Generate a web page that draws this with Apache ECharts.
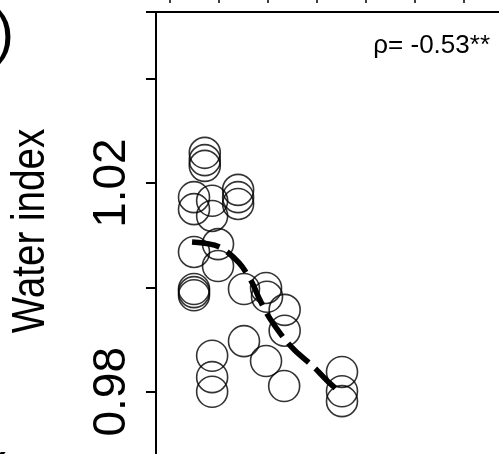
<!DOCTYPE html>
<html>
<head>
<meta charset="utf-8">
<script src="https://cdn.jsdelivr.net/npm/echarts@6/dist/echarts.min.js"></script>
<style>
    html, body { margin: 0; padding: 0; background: #fff; }
    #chart { width: 499px; height: 454px; }
</style>
</head>
<body>
<div id="chart"></div>
<script>
// point values (x in tick units, y = water index)
const pointX = [0.71, 0.71, 0.71, 0.49, 0.49, 0.86, 0.86, 1.39, 1.39, 1.39,
    0.98, 0.49, 0.98, 0.49, 0.49, 0.49, 1.51, 1.96, 1.98, 2.34,
    2.34, 1.51, 1.96, 2.33, 0.86, 0.86, 0.86, 3.51, 3.51, 3.51];
const pointY = [1.0258, 1.0244, 1.0233, 1.0173, 1.0150, 1.0166, 1.0137, 1.0187, 1.0160, 1.0173,
    1.0083, 1.0068, 1.0041, 0.9997, 0.9991, 0.9985, 0.9997, 0.9999, 0.9982, 0.9957,
    0.9917, 0.9897, 0.9859, 0.9811, 0.9869, 0.9828, 0.9800, 0.9838, 0.9801, 0.9782];

// fitted trend (dashed)
const trendX = [0.45, 1.0, 1.41, 1.67, 1.82, 2.02, 2.33, 2.55, 2.96, 3.24, 3.51];
const trendY = [1.0087, 1.0078, 1.0047, 1.0010, 0.9979, 0.9943, 0.9902, 0.9879, 0.9845, 0.9818, 0.9797];

// axis ticks
const xTicks = [0, 1, 2, 3, 4, 5, 6, 7];
const yLabels = ['0.98', '1.02'];
const rhoText = 'ρ= -0.53**';

const chart = echarts.init(document.getElementById('chart'));

const points = pointX.map((x, i) => [x, pointY[i]]);
const trend = trendX.map((x, i) => [x, trendY[i]]);

const font = 'Liberation Sans';

const options = {
    animation: false,
    grid: [
        // plot box, right and bottom sides run off the picture
        {
            left: 156, top: 12, right: -30, bottom: -42.1,
            outerBoundsMode: 'none',
            show: true, borderColor: '#000', borderWidth: 2,
        },
        // only for the ticks of the panel above
        { left: 170, top: 12, width: 49 * 7, height: 100, outerBoundsMode: 'none' },
    ],
    xAxis: [
        {
            gridIndex: 0,
            type: 'value',
            min: -14 / 49,
            max: -14 / 49 + 373 / 49,
            show: false,
        },
        {
            gridIndex: 1,
            type: 'value',
            position: 'top',
            offset: 22,
            min: xTicks[0],
            max: xTicks[xTicks.length - 1],
            interval: 1,
            axisLine: { show: false, onZero: false },
            axisTick: { show: true, inside: true, length: 13, lineStyle: { color: '#000', width: 1.5 } },
            axisLabel: { show: false },
            splitLine: { show: false },
        },
    ],
    yAxis: [
        {
            gridIndex: 0,
            type: 'value',
            min: 0.96,
            max: 1.052795,
            interval: 0.02,
            axisLine: { show: false, onZero: false },
            axisTick: { show: true, length: 10, lineStyle: { color: '#000', width: 2 } },
            axisLabel: {
                rotate: 90,
                margin: 21,
                color: '#000',
                fontFamily: font,
                fontSize: 46,
                formatter: (v) => (yLabels.includes(v.toFixed(2)) ? v.toFixed(2) : ''),
            },
            splitLine: { show: false },
        },
        { gridIndex: 1, type: 'value', min: 0, max: 1, show: false },
    ],
    graphic: [
        {
            type: 'text',
            x: 31,
            y: 231,
            rotation: Math.PI / 2,
            scaleX: 0.84,
            style: { text: 'Water index', font: '46px "Liberation Sans"', fill: '#000', textAlign: 'center', textVerticalAlign: 'middle' },
        },
        {
            type: 'text',
            x: 490,
            y: 46,
            style: { text: rhoText, font: '26px "Liberation Sans"', fill: '#000', textAlign: 'right', textVerticalAlign: 'middle' },
        },
        // bits of the neighbouring panel labels
        {
            type: 'text',
            x: -5,
            y: 36,
            style: { text: ')', font: '57px "Liberation Sans"', fill: '#000', textAlign: 'left', textVerticalAlign: 'middle' },
        },
        {
            type: 'text',
            x: -13,
            y: 478,
            style: { text: '(', font: '57px "Liberation Sans"', fill: '#000', textAlign: 'left', textVerticalAlign: 'middle' },
        },
    ],
    series: [
        {
            type: 'scatter',
            xAxisIndex: 0,
            yAxisIndex: 0,
            data: points,
            symbol: 'circle',
            symbolSize: 31,
            itemStyle: { color: 'rgba(0,0,0,0)', borderColor: '#000', borderWidth: 1.6 },
            silent: true,
        },
        {
            type: 'line',
            xAxisIndex: 0,
            yAxisIndex: 0,
            data: trend,
            smooth: 0.3,
            showSymbol: false,
            lineStyle: { color: '#000', width: 5.5, type: [28, 9], cap: 'butt' },
            z: 5,
            silent: true,
        },
    ],
};

chart.setOption(options);
</script>
</body>
</html>
